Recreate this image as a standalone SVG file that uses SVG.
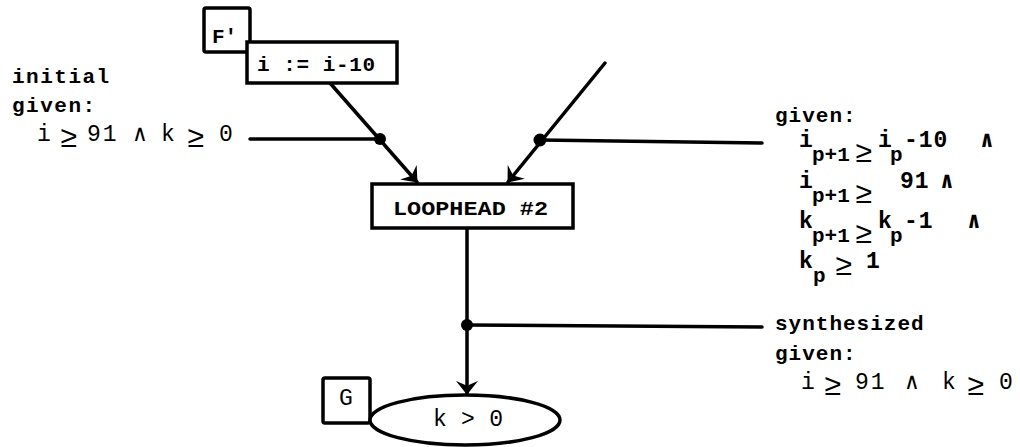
<svg xmlns="http://www.w3.org/2000/svg" width="1020" height="447" viewBox="0 0 1020 447">
<style>
.box{fill:#fff;stroke:#000;stroke-width:3.5}
.ln{fill:none;stroke:#000;stroke-width:3.5;stroke-linecap:round}
.dot{fill:#000}
.t{font-family:"Liberation Mono","DejaVu Sans Mono",monospace;font-size:21px;font-weight:bold;fill:#000}
.n{font-family:"Liberation Mono","DejaVu Sans Mono",monospace;font-size:23px;fill:#000}
.r{font-family:"Liberation Mono","DejaVu Sans Mono",monospace;font-size:23px;font-weight:bold;fill:#000}
.s{font-size:21px}
.ge{font-size:30px;font-weight:normal}
</style>
<defs>
<marker id="arr" viewBox="0 0 10 16" refX="9.5" refY="8" markerWidth="14" markerHeight="22" orient="auto" markerUnits="userSpaceOnUse">
<path d="M0,0 L10,8 L0,16 L3.5,8 z" fill="#000"/>
</marker>
</defs>

<g id="connectors">
<line class="ln" x1="330" y1="83" x2="417" y2="182" marker-end="url(#arr)"/>
<line class="ln" x1="250" y1="139" x2="380" y2="139"/>
<line class="ln" x1="605" y1="63" x2="508" y2="182" marker-end="url(#arr)"/>
<line class="ln" x1="540" y1="140" x2="762" y2="143"/>
<line class="ln" x1="467" y1="228" x2="467" y2="394" marker-end="url(#arr)"/>
<line class="ln" x1="467" y1="325" x2="762" y2="327"/>
<circle class="dot" cx="380" cy="139" r="6"/>
<circle class="dot" cx="540" cy="140" r="6.5"/>
<circle class="dot" cx="467" cy="325" r="6"/>
</g>

<g id="node-fprime">
<rect class="box" x="204" y="8" width="46" height="44" rx="2"/>
<text class="t" x="212" y="43" font-size="17">F'</text>
</g>

<g id="node-assign">
<rect class="box" x="247" y="42" width="150" height="41"/>
<text class="t" x="257" y="71" textLength="118" lengthAdjust="spacing">i := i-10</text>
</g>

<g id="node-loophead">
<rect class="box" x="372" y="184" width="201" height="44"/>
<text class="t" x="393" y="215" textLength="155" lengthAdjust="spacingAndGlyphs">LOOPHEAD #2</text>
</g>

<g id="node-g">
<rect class="box" x="323" y="378" width="47" height="45" rx="2"/>
<text class="n" x="339" y="405" font-size="21">G</text>
</g>

<g id="node-goal">
<ellipse class="box" cx="465" cy="420" rx="95" ry="25"/>
<text class="n" x="433" y="426" font-size="21" textLength="70" lengthAdjust="spacing">k &gt; 0</text>
</g>

<g id="label-initial">
<text class="t" x="12" y="83" letter-spacing="1.5">initial</text>
<text class="t" x="12" y="112" letter-spacing="1.5">given:</text>
<text class="n" y="141"><tspan x="37">i</tspan><tspan x="60" y="147" class="ge">≥</tspan><tspan x="87" y="141" letter-spacing="2">91</tspan><tspan x="133">∧</tspan><tspan x="161">k</tspan><tspan x="187" y="147" class="ge">≥</tspan><tspan x="219" y="141">0</tspan></text>
</g>

<g id="label-given">
<text class="t" x="775" y="122" letter-spacing="1">given:</text>
<text class="r"><tspan x="799" y="147">i</tspan><tspan x="812" y="161" class="s">p+1</tspan><tspan x="855" y="162" class="ge">≥</tspan><tspan x="878" y="147">i</tspan><tspan x="890" y="161" class="s">p</tspan><tspan x="904" y="147" letter-spacing="1">-10</tspan><tspan x="980" y="147">∧</tspan></text>
<text class="r"><tspan x="799" y="188">i</tspan><tspan x="812" y="202" class="s">p+1</tspan><tspan x="855" y="203" class="ge">≥</tspan><tspan x="900" y="188" letter-spacing="1">91</tspan><tspan x="940" y="188">∧</tspan></text>
<text class="r"><tspan x="799" y="228">k</tspan><tspan x="812" y="242" class="s">p+1</tspan><tspan x="855" y="243" class="ge">≥</tspan><tspan x="878" y="228">k</tspan><tspan x="890" y="242" class="s">p</tspan><tspan x="904" y="228" letter-spacing="1">-1</tspan><tspan x="967" y="228">∧</tspan></text>
<text class="r"><tspan x="799" y="268">k</tspan><tspan x="813" y="282" class="s">p</tspan><tspan x="835" y="275" class="ge">≥</tspan><tspan x="866" y="268">1</tspan></text>
</g>

<g id="label-synth">
<text class="t" x="775" y="330" letter-spacing="1">synthesized</text>
<text class="t" x="775" y="360" letter-spacing="1">given:</text>
<text class="n" y="389"><tspan x="801">i</tspan><tspan x="824" y="395" class="ge">≥</tspan><tspan x="855" y="389" letter-spacing="2">91</tspan><tspan x="905">∧</tspan><tspan x="942">k</tspan><tspan x="967" y="395" class="ge">≥</tspan><tspan x="999" y="389">0</tspan></text>
</g>
</svg>
